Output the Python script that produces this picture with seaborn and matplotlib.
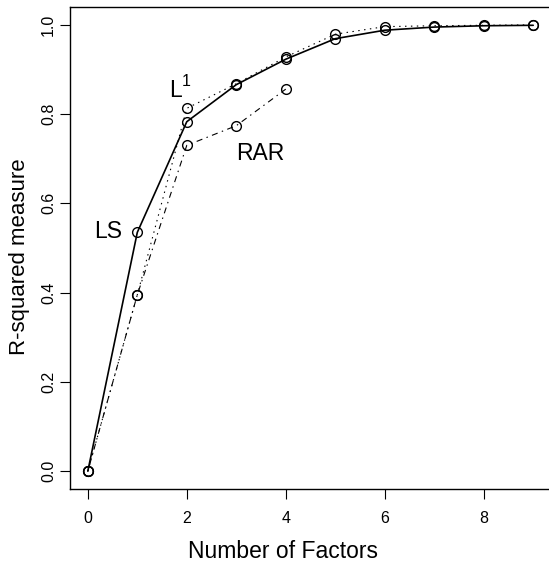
import matplotlib
matplotlib.use("Agg")
import matplotlib.pyplot as plt
import seaborn as sns
import pandas as pd

# Data
factors = [0, 1, 2, 3, 4, 5, 6, 7, 8, 9]
ls_vals = [0.0, 0.535, 0.783, 0.866, 0.923, 0.969, 0.988, 0.995, 0.998, 0.999]
l1_vals = [0.0, 0.395, 0.813, 0.868, 0.928, 0.979, 0.996, 0.998, 0.999, 1.0]
rar_factors = [0, 1, 2, 3, 4]
rar_vals = [0.0, 0.395, 0.730, 0.774, 0.856]
y_ticks = [0.0, 0.2, 0.4, 0.6, 0.8, 1.0]
x_ticks = [0, 2, 4, 6, 8]

sns.set_theme(style="white")
plt.rcParams['font.family'] = ['Liberation Sans', 'DejaVu Sans']
plt.rcParams['text.color'] = 'black'
plt.rcParams['axes.labelcolor'] = 'black'

fig = plt.figure(figsize=(5.49, 5.65), dpi=100)
ax = fig.add_axes([70/549, (565-489)/565, 481/549, 482/565])

df_ls = pd.DataFrame({"x": factors, "y": ls_vals})
df_l1 = pd.DataFrame({"x": factors, "y": l1_vals})
df_rar = pd.DataFrame({"x": rar_factors, "y": rar_vals})

mk = dict(marker="o", markersize=7, markerfacecolor="none",
          markeredgecolor="black", markeredgewidth=1.0)

sns.lineplot(data=df_l1, x="x", y="y", ax=ax, color="black", linewidth=0.8,
             legend=False, **mk)
ax.lines[-1].set_dashes((1.3, 4))
sns.lineplot(data=df_rar, x="x", y="y", ax=ax, color="black", linewidth=0.8,
             legend=False, **mk)
ax.lines[-1].set_dashes((1.3, 4, 5.5, 4))
sns.lineplot(data=df_ls, x="x", y="y", ax=ax, color="black", linewidth=1.2,
             legend=False, **mk)

ax.set_xlim(-0.36, 9.36)
ax.set_ylim(-0.04, 1.04)
ax.set_xticks(x_ticks)
ax.set_xticklabels([str(t) for t in x_ticks])
ax.set_yticks(y_ticks)
ax.set_yticklabels([f"{t:.1f}" for t in y_ticks])

for s in ax.spines.values():
    s.set_color("black")
    s.set_linewidth(1.0)

ax.tick_params(axis="both", direction="out", length=7, width=0.8,
               color="black", labelsize=11.5, labelcolor="black")
ax.tick_params(axis="x", pad=9, bottom=True)
ax.tick_params(axis="y", pad=3, left=True, labelrotation=90)
for lab in ax.get_yticklabels():
    lab.set_va("center")

ax.set_xlabel("Number of Factors", fontsize=16.5, color="black")
ax.xaxis.label.set_va("baseline")
ax.xaxis.set_label_coords(0.443, -69/482)

ax.set_ylabel("R-squared measure", fontsize=16, color="black")
yl = ax.yaxis.label
yl.set_rotation_mode("anchor")
yl.set_va("baseline")
yl.set_ha("center")
ax.yaxis.set_label_coords((25-70)/481, (489-256.5)/482)

ax.text(0.404, 0.5226, "LS", fontsize=16.5, ha="center", va="baseline", color="black")
ax.text(1.78, 0.839, "L", fontsize=16.5, ha="center", va="baseline", color="black")
ax.text(1.99, 0.862, "1", fontsize=11.5, ha="center", va="baseline", color="black")
ax.text(3.49, 0.698, "RAR", fontsize=16.5, ha="center", va="baseline", color="black")

fig.savefig("out.png", dpi=100)
